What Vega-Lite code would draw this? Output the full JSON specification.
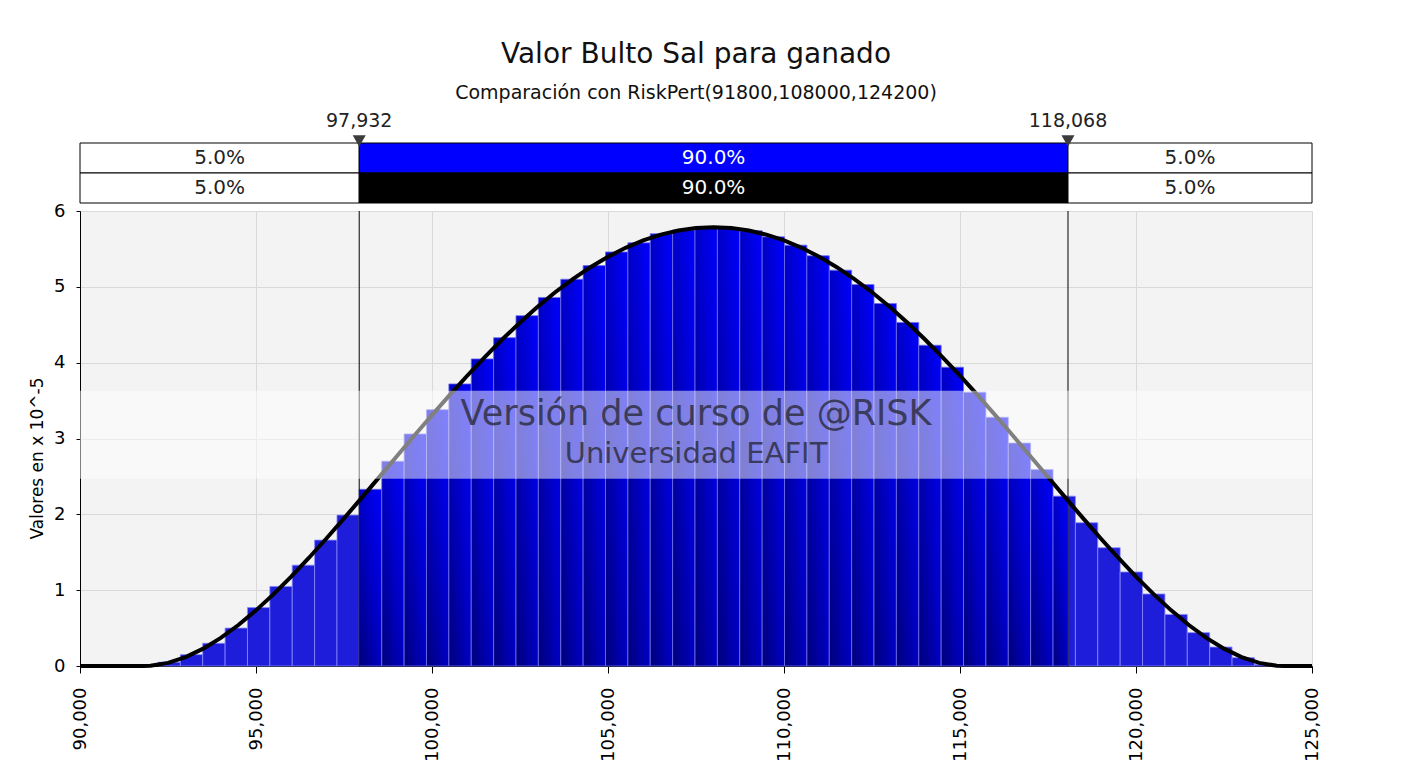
{
  "$schema": "https://vega.github.io/schema/vega-lite/v6.json",
  "background": "white",
  "padding": {"left": 28, "top": 41, "right": 0, "bottom": 0},
  "bounds": "flush",
  "spacing": 8,
  "config": {
    "font": "DejaVu Sans",
    "axis": {"labelColor": "black", "domainColor": "black", "tickColor": "black", "gridColor": "#d9d9d9", "labelFont": "DejaVu Sans", "titleFont": "DejaVu Sans"}
  },
  "datasets": {
    "celdas": [
      {"fila": "sim", "grupo": "cola", "a": 90000, "b": 97932, "m": 93966, "txt": "5.0%"},
      {"fila": "sim", "grupo": "sim", "a": 97932, "b": 118068, "m": 108000, "txt": "90.0%"},
      {"fila": "sim", "grupo": "cola", "a": 118068, "b": 125000, "m": 121534, "txt": "5.0%"},
      {"fila": "ajuste", "grupo": "cola", "a": 90000, "b": 97932, "m": 93966, "txt": "5.0%"},
      {"fila": "ajuste", "grupo": "ajuste", "a": 97932, "b": 118068, "m": 108000, "txt": "90.0%"},
      {"fila": "ajuste", "grupo": "cola", "a": 118068, "b": 125000, "m": 121534, "txt": "5.0%"}
    ],
    "marcas": [
      {"fila": "etiqueta", "v": 97932},
      {"fila": "etiqueta", "v": 118068}
    ],
    "bins": [
      {"a": 92215, "b": 92851, "h": 0.05, "g": "cola"},
      {"a": 92851, "b": 93486, "h": 0.15, "g": "cola"},
      {"a": 93486, "b": 94122, "h": 0.30, "g": "cola"},
      {"a": 94122, "b": 94758, "h": 0.50, "g": "cola"},
      {"a": 94758, "b": 95394, "h": 0.77, "g": "cola"},
      {"a": 95394, "b": 96029, "h": 1.05, "g": "cola"},
      {"a": 96029, "b": 96665, "h": 1.33, "g": "cola"},
      {"a": 96665, "b": 97301, "h": 1.66, "g": "cola"},
      {"a": 97301, "b": 97932, "h": 1.99, "g": "cola"},
      {"a": 97932, "b": 98572, "h": 2.33, "g": "centro"},
      {"a": 98572, "b": 99208, "h": 2.70, "g": "centro"},
      {"a": 99208, "b": 99843, "h": 3.06, "g": "centro"},
      {"a": 99843, "b": 100479, "h": 3.38, "g": "centro"},
      {"a": 100479, "b": 101115, "h": 3.72, "g": "centro"},
      {"a": 101115, "b": 101751, "h": 4.05, "g": "centro"},
      {"a": 101751, "b": 102386, "h": 4.33, "g": "centro"},
      {"a": 102386, "b": 103022, "h": 4.62, "g": "centro"},
      {"a": 103022, "b": 103658, "h": 4.86, "g": "centro"},
      {"a": 103658, "b": 104293, "h": 5.10, "g": "centro"},
      {"a": 104293, "b": 104929, "h": 5.28, "g": "centro"},
      {"a": 104929, "b": 105565, "h": 5.46, "g": "centro"},
      {"a": 105565, "b": 106200, "h": 5.58, "g": "centro"},
      {"a": 106200, "b": 106836, "h": 5.70, "g": "centro"},
      {"a": 106836, "b": 107472, "h": 5.75, "g": "centro"},
      {"a": 107472, "b": 108108, "h": 5.79, "g": "centro"},
      {"a": 108108, "b": 108743, "h": 5.77, "g": "centro"},
      {"a": 108743, "b": 109379, "h": 5.74, "g": "centro"},
      {"a": 109379, "b": 110015, "h": 5.66, "g": "centro"},
      {"a": 110015, "b": 110650, "h": 5.55, "g": "centro"},
      {"a": 110650, "b": 111286, "h": 5.41, "g": "centro"},
      {"a": 111286, "b": 111922, "h": 5.22, "g": "centro"},
      {"a": 111922, "b": 112557, "h": 5.03, "g": "centro"},
      {"a": 112557, "b": 113193, "h": 4.78, "g": "centro"},
      {"a": 113193, "b": 113829, "h": 4.53, "g": "centro"},
      {"a": 113829, "b": 114465, "h": 4.23, "g": "centro"},
      {"a": 114465, "b": 115100, "h": 3.94, "g": "centro"},
      {"a": 115100, "b": 115736, "h": 3.61, "g": "centro"},
      {"a": 115736, "b": 116372, "h": 3.28, "g": "centro"},
      {"a": 116372, "b": 117007, "h": 2.94, "g": "centro"},
      {"a": 117007, "b": 117643, "h": 2.59, "g": "centro"},
      {"a": 117643, "b": 118068, "h": 2.24, "g": "centro"},
      {"a": 118068, "b": 118279, "h": 2.24, "g": "cola"},
      {"a": 118279, "b": 118914, "h": 1.89, "g": "cola"},
      {"a": 118914, "b": 119550, "h": 1.56, "g": "cola"},
      {"a": 119550, "b": 120186, "h": 1.24, "g": "cola"},
      {"a": 120186, "b": 120822, "h": 0.95, "g": "cola"},
      {"a": 120822, "b": 121457, "h": 0.68, "g": "cola"},
      {"a": 121457, "b": 122093, "h": 0.44, "g": "cola"},
      {"a": 122093, "b": 122729, "h": 0.25, "g": "cola"},
      {"a": 122729, "b": 123364, "h": 0.11, "g": "cola"},
      {"a": 123364, "b": 124000, "h": 0.02, "g": "cola"}
    ],
    "curva": [
      {"x": 90000, "d": 0}, {"x": 90500, "d": 0}, {"x": 91000, "d": 0}, {"x": 91500, "d": 0},
      {"x": 91800, "d": 0}, {"x": 92000, "d": 0.0035}, {"x": 92500, "d": 0.0414}, {"x": 93000, "d": 0.1178},
      {"x": 93500, "d": 0.2289}, {"x": 94000, "d": 0.3709}, {"x": 94500, "d": 0.5403}, {"x": 95000, "d": 0.7336},
      {"x": 95500, "d": 0.9475}, {"x": 96000, "d": 1.1787}, {"x": 96500, "d": 1.4242}, {"x": 97000, "d": 1.6809},
      {"x": 97500, "d": 1.9461}, {"x": 98000, "d": 2.2171}, {"x": 98500, "d": 2.4912}, {"x": 99000, "d": 2.7661},
      {"x": 99500, "d": 3.0393}, {"x": 100000, "d": 3.3087}, {"x": 100500, "d": 3.5722}, {"x": 101000, "d": 3.8278},
      {"x": 101500, "d": 4.0738}, {"x": 102000, "d": 4.3082}, {"x": 102500, "d": 4.5298}, {"x": 103000, "d": 4.7370},
      {"x": 103500, "d": 4.9284}, {"x": 104000, "d": 5.1029}, {"x": 104500, "d": 5.2594}, {"x": 105000, "d": 5.3969},
      {"x": 105500, "d": 5.5147}, {"x": 106000, "d": 5.6120}, {"x": 106500, "d": 5.6882}, {"x": 107000, "d": 5.7431},
      {"x": 107500, "d": 5.7760}, {"x": 108000, "d": 5.7871}, {"x": 108500, "d": 5.7760}, {"x": 109000, "d": 5.7431},
      {"x": 109500, "d": 5.6882}, {"x": 110000, "d": 5.6120}, {"x": 110500, "d": 5.5147}, {"x": 111000, "d": 5.3969},
      {"x": 111500, "d": 5.2594}, {"x": 112000, "d": 5.1029}, {"x": 112500, "d": 4.9284}, {"x": 113000, "d": 4.7370},
      {"x": 113500, "d": 4.5298}, {"x": 114000, "d": 4.3082}, {"x": 114500, "d": 4.0738}, {"x": 115000, "d": 3.8278},
      {"x": 115500, "d": 3.5722}, {"x": 116000, "d": 3.3087}, {"x": 116500, "d": 3.0393}, {"x": 117000, "d": 2.7661},
      {"x": 117500, "d": 2.4912}, {"x": 118000, "d": 2.2171}, {"x": 118500, "d": 1.9461}, {"x": 119000, "d": 1.6809},
      {"x": 119500, "d": 1.4242}, {"x": 120000, "d": 1.1787}, {"x": 120500, "d": 0.9475}, {"x": 121000, "d": 0.7336},
      {"x": 121500, "d": 0.5403}, {"x": 122000, "d": 0.3709}, {"x": 122500, "d": 0.2289}, {"x": 123000, "d": 0.1178},
      {"x": 123500, "d": 0.0414}, {"x": 124000, "d": 0.0035}, {"x": 124200, "d": 0}, {"x": 124500, "d": 0},
      {"x": 125000, "d": 0}
    ],
    "marca_agua": [
      {"a": 90000, "b": 125000, "lo": 2.47, "hi": 3.63}
    ],
    "textos_agua": [
      {"x": 107500, "y": 3.32, "t": "Versión de curso de @RISK", "tipo": "grande"},
      {"x": 107500, "y": 2.8, "t": "Universidad EAFIT", "tipo": "pequeño"}
    ]
  },
  "vconcat": [
    {
      "width": 1232,
      "height": 90,
      "title": {
        "text": "Valor Bulto Sal para ganado",
        "subtitle": "Comparación con RiskPert(91800,108000,124200)",
        "anchor": "middle",
        "frame": "group",
        "font": "DejaVu Sans",
        "fontSize": 28,
        "fontWeight": "normal",
        "color": "#111111",
        "subtitleFont": "DejaVu Sans",
        "subtitleFontSize": 19,
        "subtitleColor": "#111111",
        "subtitlePadding": 15,
        "offset": 9
      },
      "view": {"stroke": null},
      "layer": [
        {
          "data": {"name": "celdas"},
          "mark": {"type": "rect", "stroke": "black", "strokeWidth": 1},
          "encoding": {
            "x": {"field": "a", "type": "quantitative", "scale": {"domain": [90000, 125000], "nice": false, "zero": false}, "axis": null},
            "x2": {"field": "b"},
            "y": {"field": "fila", "type": "nominal", "scale": {"domain": ["etiqueta", "sim", "ajuste"], "paddingInner": 0, "paddingOuter": 0}, "axis": null},
            "fill": {"field": "grupo", "type": "nominal", "scale": {"domain": ["cola", "sim", "ajuste"], "range": ["white", "#0000ff", "black"]}, "legend": null}
          }
        },
        {
          "data": {"name": "celdas"},
          "mark": {"type": "text", "fontSize": 20, "baseline": "middle", "align": "center"},
          "encoding": {
            "x": {"field": "m", "type": "quantitative"},
            "y": {"field": "fila", "type": "nominal"},
            "text": {"field": "txt"},
            "color": {"field": "grupo", "type": "nominal", "scale": {"domain": ["cola", "sim", "ajuste"], "range": ["#222222", "white", "white"]}, "legend": null}
          }
        },
        {
          "data": {"name": "marcas"},
          "mark": {"type": "point", "shape": "triangle-down", "filled": true, "color": "#3c3c3c", "size": 170, "yOffset": 13, "opacity": 1},
          "encoding": {
            "x": {"field": "v", "type": "quantitative"},
            "y": {"field": "fila", "type": "nominal"}
          }
        },
        {
          "data": {"name": "marcas"},
          "mark": {"type": "text", "fontSize": 19, "color": "#222222", "baseline": "middle", "yOffset": -7},
          "encoding": {
            "x": {"field": "v", "type": "quantitative"},
            "y": {"field": "fila", "type": "nominal"},
            "text": {"field": "v", "type": "quantitative", "format": ",.0f"}
          }
        }
      ]
    },
    {
      "width": 1232,
      "height": 455,
      "view": {"fill": "#f3f3f3", "stroke": null},
      "layer": [
        {
          "data": {"name": "bins"},
          "transform": [{"filter": "datum.g == 'cola'"}],
          "mark": {"type": "rect", "fill": "#1d1dda", "stroke": "#8a8aff", "strokeWidth": 0.8},
          "encoding": {
            "x": {"field": "a", "type": "quantitative", "scale": {"domain": [90000, 125000], "nice": false, "zero": false},
              "axis": {"values": [90000, 95000, 100000, 105000, 110000, 115000, 120000, 125000], "format": ",.0f", "labelAngle": 270, "labelFontSize": 18, "tickSize": 7, "labelPadding": 14, "title": null, "grid": true}},
            "x2": {"field": "b"},
            "y": {"field": "h", "type": "quantitative", "scale": {"domain": [0, 6], "nice": false},
              "axis": {"values": [0, 1, 2, 3, 4, 5, 6], "format": ".0f", "labelFontSize": 18, "tickSize": 4, "labelPadding": 11, "title": "Valores en x 10^-5", "titleFontSize": 17, "titleFontWeight": "normal", "titleColor": "black", "titleX": -43, "titleY": 247, "titleAngle": 270, "titleAlign": "center", "titleBaseline": "middle", "grid": true}},
            "y2": {"datum": 0}
          }
        },
        {
          "data": {"name": "bins"},
          "transform": [{"filter": "datum.g == 'centro'"}],
          "mark": {"type": "rect", "stroke": "#7070f0", "strokeWidth": 0.8,
            "fill": {"gradient": "linear", "x1": 0, "y1": 1, "x2": 1, "y2": 0, "stops": [{"offset": 0, "color": "#00007a"}, {"offset": 0.5, "color": "#0000c4"}, {"offset": 1, "color": "#0000ff"}]}},
          "encoding": {
            "x": {"field": "a", "type": "quantitative"},
            "x2": {"field": "b"},
            "y": {"field": "h", "type": "quantitative"},
            "y2": {"datum": 0}
          }
        },
        {
          "data": {"name": "marcas"},
          "mark": {"type": "rule", "color": "black", "strokeWidth": 1},
          "encoding": {
            "x": {"field": "v", "type": "quantitative"},
            "y": {"datum": 0},
            "y2": {"datum": 6}
          }
        },
        {
          "data": {"name": "curva"},
          "mark": {"type": "line", "color": "black", "strokeWidth": 4},
          "encoding": {
            "x": {"field": "x", "type": "quantitative"},
            "y": {"field": "d", "type": "quantitative"}
          }
        },
        {
          "data": {"name": "marca_agua"},
          "mark": {"type": "rect", "fill": "white", "opacity": 0.5},
          "encoding": {
            "x": {"field": "a", "type": "quantitative"},
            "x2": {"field": "b"},
            "y": {"field": "lo", "type": "quantitative"},
            "y2": {"field": "hi"}
          }
        },
        {
          "data": {"name": "textos_agua"},
          "mark": {"type": "text", "color": "#2b2b3b", "opacity": 0.8, "baseline": "middle", "align": "center"},
          "encoding": {
            "x": {"field": "x", "type": "quantitative"},
            "y": {"field": "y", "type": "quantitative"},
            "text": {"field": "t"},
            "size": {"field": "tipo", "type": "nominal", "scale": {"domain": ["grande", "pequeño"], "range": [35, 29]}, "legend": null}
          }
        }
      ]
    }
  ]
}
